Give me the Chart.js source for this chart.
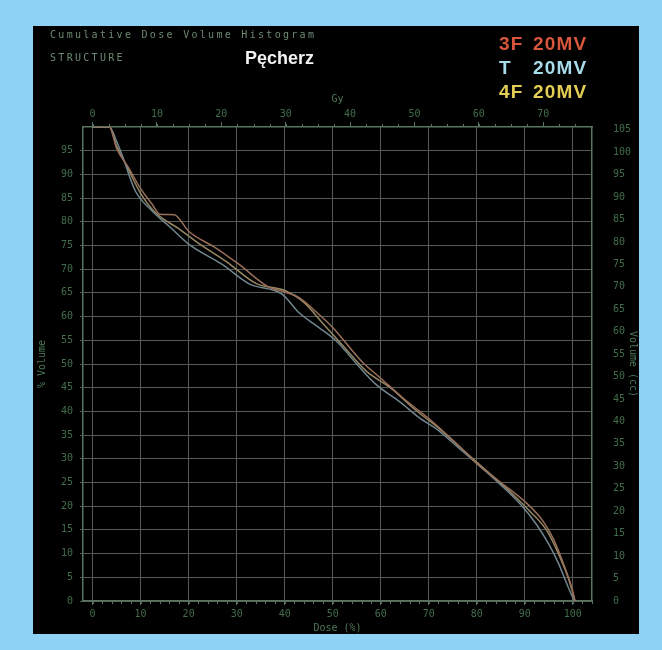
<!DOCTYPE html>
<html>
<head>
<meta charset="utf-8">
<script src="https://cdn.jsdelivr.net/npm/chart.js@4/dist/chart.umd.min.js"></script>
<style>
  html, body { margin: 0; padding: 0; }
  body { width: 662px; height: 650px; background: #8fd3f4; position: relative; overflow: hidden; }
  #panel { position: absolute; left: 33px; top: 26px; width: 606px; height: 608px; background: #000; }
  #dvh { position: absolute; left: 0; top: 0; }
  .hdr { position: absolute; font-family: "DejaVu Sans Mono", monospace; font-size: 10px; letter-spacing: 2.3px; color: #6d8a72; white-space: nowrap; }
  .struct { position: absolute; font-family: "Liberation Sans", Arial, sans-serif; font-weight: bold; font-size: 18px; color: #f2f2f2; }
  .leg { position: absolute; font-family: "Liberation Sans", Arial, sans-serif; font-weight: bold; font-size: 19px; letter-spacing: 1.2px; white-space: nowrap; }
</style>
</head>
<body>
<div id="panel">
  <canvas id="dvh" width="606" height="608"></canvas>
  <div class="hdr" style="left:17px; top:3px;">Cumulative Dose Volume Histogram</div>
  <div class="hdr" style="left:17px; top:26px;">STRUCTURE</div>
  <div class="struct" style="left:212px; top:22px;">Pęcherz</div>
</div>
<div id="legend"></div>

<script>
// x = dose (%), y = volume (%)
const dose3F = [0, 3.5, 5, 7.5, 10, 12.4, 14, 17, 20, 25.6, 30.5, 36.7, 40, 43, 46, 50, 56, 60, 65, 70, 76, 80, 85, 90, 93.7, 96, 98, 100, 100.4];
const vol3F  = [100, 100, 95.5, 91.4, 87, 83.7, 81.6, 81.5, 78, 74.5, 71, 66.2, 65.2, 64, 61.5, 57.7, 50.6, 47, 42.5, 38.5, 33, 29, 25, 21, 17, 13, 8, 2, 0];

const doseT = [0, 3.5, 5, 6.1, 8.9, 12.4, 16, 20, 27, 32.6, 39.5, 43, 46, 50.7, 55, 59, 64, 68, 72, 76, 80, 85, 89, 92.4, 95, 97, 99, 100.3];
const volT  = [100, 100, 97, 94.2, 86.5, 82.3, 79, 75.3, 71, 66.9, 64.7, 60.8, 58.5, 54.9, 50, 45.7, 42, 38.7, 36, 32.5, 29, 24.5, 20.5, 16.2, 12, 8, 3, 0];

const dose4F = [0, 3.5, 5, 7, 10, 13, 18, 22, 28, 34, 40, 44, 48, 52, 57, 62, 67, 72, 77, 82, 87, 91, 94.5, 97, 99, 100.5];
const vol4F  = [100, 100, 96, 92, 86, 82, 78.5, 75.5, 71.5, 67, 65.5, 63, 58.5, 54, 48.5, 45, 40.5, 36.5, 32, 27.5, 23, 19, 15, 10, 5, 0];

const doseTicks = [0, 10, 20, 30, 40, 50, 60, 70, 80, 90, 100];
const volTicks = [0, 5, 10, 15, 20, 25, 30, 35, 40, 45, 50, 55, 60, 65, 70, 75, 80, 85, 90, 95];
const gyTicks = [0, 10, 20, 30, 40, 50, 60, 70];
const ccTicks = [0, 5, 10, 15, 20, 25, 30, 35, 40, 45, 50, 55, 60, 65, 70, 75, 80, 85, 90, 95, 100, 105];

const planLabels = ["3F", "T", "4F"];
const planEnergy = ["20MV", "20MV", "20MV"];
const legendColors = ["#d9573c", "#a9dcea", "#e4cd55"];
const lineColors = ["#9a6f5a", "#71868f", "#978863"];

const GY_PER_PCT = 0.746; // 100% dose ~ 74.6 Gy
const DOSE_MIN = -2, DOSE_MAX = 104;

// legend text at top right
const leg = document.getElementById("legend");
planLabels.forEach((lab, i) => {
  const top = 33 + i * 24;
  leg.innerHTML += `<div class="leg" style="left:499px; top:${top}px; color:${legendColors[i]}">${lab}</div>` +
                   `<div class="leg" style="left:533px; top:${top}px; color:${legendColors[i]}">${planEnergy[i]}</div>`;
});

function pts(xs, ys) {
  return xs.map((x, i) => ({ x: x, y: ys[i] }));
}

const tickFont = { family: "DejaVu Sans Mono", size: 10 };
const tickColor = "#416d4a";
const frameColor = "#587560";
const gridColor = "#545a55";

// small minor ticks along top and bottom border
const minorTicks = {
  id: "minorTicks",
  afterDraw(chart) {
    const ctx = chart.ctx;
    const x = chart.scales.x, x2 = chart.scales.x2;
    const area = chart.chartArea;
    ctx.save();
    ctx.strokeStyle = frameColor;
    ctx.lineWidth = 1;
    ctx.beginPath();
    for (let v = 0; v <= 104; v += 2) {
      const px = Math.round(x.getPixelForValue(v)) + 0.5;
      ctx.moveTo(px, area.bottom);
      ctx.lineTo(px, area.bottom + 3);
    }
    for (let g = 0; g <= 77; g += 2.5) {
      const px = Math.round(x2.getPixelForValue(g)) + 0.5;
      ctx.moveTo(px, area.top);
      ctx.lineTo(px, area.top - 3);
    }
    ctx.stroke();
    ctx.restore();
  }
};

const datasets = [
  { label: "3F 20MV", data: pts(dose3F, vol3F), borderColor: lineColors[0] },
  { label: "T 20MV", data: pts(doseT, volT), borderColor: lineColors[1] },
  { label: "4F 20MV", data: pts(dose4F, vol4F), borderColor: lineColors[2] }
].map(d => Object.assign(d, {
  borderWidth: 1.5,
  pointRadius: 0,
  fill: false,
  cubicInterpolationMode: "monotone",
  xAxisID: "x",
  yAxisID: "y"
}));

new Chart(document.getElementById("dvh"), {
  type: "line",
  data: { datasets: datasets },
  options: {
    responsive: false,
    animation: false,
    layout: { padding: 0 },
    plugins: { legend: { display: false }, tooltip: { enabled: false } },
    scales: {
      x: {
        type: "linear",
        position: "bottom",
        min: DOSE_MIN,
        max: DOSE_MAX,
        afterBuildTicks: s => { s.ticks = doseTicks.map(v => ({ value: v })); },
        afterFit: s => { s.height = 33; },
        grid: { color: gridColor, tickColor: frameColor, tickLength: 4 },
        border: { color: frameColor, width: 1.5 },
        ticks: { color: tickColor, font: tickFont, padding: 3, maxRotation: 0 },
        title: { display: true, text: "Dose (%)", color: "#4f7a57", font: tickFont, padding: { top: 0, bottom: 0 } }
      },
      x2: {
        type: "linear",
        position: "top",
        min: DOSE_MIN * GY_PER_PCT,
        max: DOSE_MAX * GY_PER_PCT,
        afterBuildTicks: s => { s.ticks = gyTicks.map(v => ({ value: v })); },
        afterFit: s => { s.height = 101; },
        grid: { drawOnChartArea: false, tickColor: frameColor, tickLength: 5 },
        border: { color: frameColor, width: 1.5 },
        ticks: { color: tickColor, font: tickFont, padding: 2, maxRotation: 0 },
        title: { display: true, text: "Gy", color: "#4f7a57", font: tickFont, padding: { top: 67, bottom: 0 } }
      },
      y: {
        type: "linear",
        position: "left",
        min: 0,
        max: 100,
        afterBuildTicks: s => { s.ticks = volTicks.map(v => ({ value: v })); },
        afterFit: s => { s.width = 50; },
        grid: { color: gridColor, tickColor: gridColor, tickLength: 3 },
        border: { color: frameColor, width: 1.5 },
        ticks: { color: tickColor, font: tickFont, padding: 7 },
        title: { display: true, text: "% Volume", color: "#4f7a57", font: tickFont, padding: { top: 3, bottom: 0 } }
      },
      y2: {
        type: "linear",
        position: "right",
        min: 0,
        max: 105.6,
        afterBuildTicks: s => { s.ticks = ccTicks.map(v => ({ value: v })); },
        afterFit: s => { s.width = 47; },
        grid: { drawOnChartArea: false, drawTicks: false },
        border: { color: frameColor, width: 1.5 },
        ticks: { color: tickColor, font: tickFont, padding: 21 },
        title: { display: true, text: "Volume (cc)", color: "#4f7a57", font: tickFont, padding: { top: 0, bottom: 0 } }
      }
    }
  },
  plugins: [minorTicks]
});
</script>
</body>
</html>
